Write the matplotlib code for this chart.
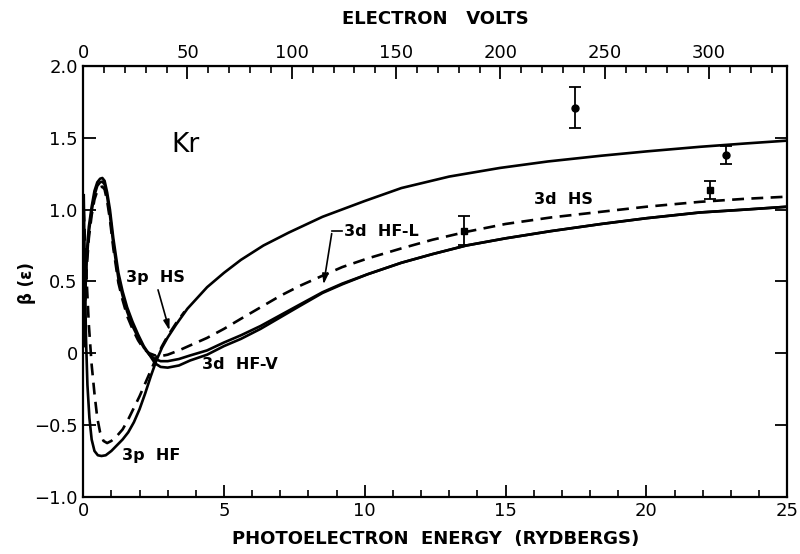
import numpy as np
import matplotlib
matplotlib.use("Agg")
import matplotlib.pyplot as plt
from matplotlib.ticker import MultipleLocator, FixedLocator, FuncFormatter

# Kr photoelectron asymmetry parameter, beta vs photoelectron energy (Ry)
ev_per_ry = 13.5

# 3d HF-V (solid, outer)
x_3d = [0.02, 0.06, 0.12, 0.2, 0.3, 0.4, 0.5, 0.6, 0.68, 0.76, 0.85, 0.95, 1.07, 1.25,
        1.4, 1.56, 1.75, 1.95, 2.15, 2.35, 2.55, 2.75, 3.0, 3.4, 3.8, 4.4, 5.0, 5.6,
        6.3, 7.0, 7.7, 8.5, 9.2, 10.1, 11.3, 12.4, 13.6, 15.0, 16.6, 18.4, 20.0,
        21.9, 23.5, 25.0]
beta_3d_hfv = [0.1, 0.4, 0.68, 0.88, 1.02, 1.13, 1.19, 1.215, 1.22, 1.2, 1.12, 1.0, 0.8,
               0.56, 0.43, 0.32, 0.22, 0.13, 0.05, -0.01, -0.07, -0.095, -0.1, -0.085,
               -0.05, -0.01, 0.05, 0.1, 0.17, 0.25, 0.33, 0.42, 0.48, 0.55, 0.63, 0.69,
               0.75, 0.8, 0.85, 0.9, 0.94, 0.98, 1.0, 1.02]
# 3d HF-L (solid, inner)
beta_3d_hfl = [0.05, 0.35, 0.63, 0.84, 0.99, 1.1, 1.165, 1.19, 1.195, 1.175, 1.09, 0.96,
               0.76, 0.52, 0.4, 0.29, 0.19, 0.11, 0.04, -0.01, -0.04, -0.055, -0.055,
               -0.04, -0.015, 0.02, 0.075, 0.125, 0.19, 0.265, 0.34, 0.425, 0.485, 0.55,
               0.63, 0.69, 0.75, 0.8, 0.85, 0.9, 0.94, 0.98, 1.0, 1.02]
# 3d HS (dashed)
beta_3d_hs = [0.1, 0.3, 0.58, 0.8, 0.96, 1.07, 1.13, 1.155, 1.16, 1.14, 1.06, 0.93, 0.73,
              0.49, 0.37, 0.26, 0.17, 0.09, 0.03, 0.0, -0.015, -0.02, -0.01, 0.02, 0.055,
              0.107, 0.17, 0.24, 0.32, 0.4, 0.47, 0.54, 0.6, 0.66, 0.73, 0.79, 0.845, 0.9,
              0.945, 0.985, 1.02, 1.054, 1.075, 1.09]

# 3p HF (solid)
x_3p_hf = [0.02, 0.06, 0.1, 0.15, 0.22, 0.3, 0.4, 0.52, 0.65, 0.8, 1.0, 1.2, 1.4, 1.6,
           1.8, 2.0, 2.2, 2.4, 2.6, 2.8, 3.0, 3.3, 3.7, 4.4, 5.0, 5.6, 6.4, 7.3, 8.5,
           10.0, 11.3, 13.0, 14.8, 16.5, 18.4, 20.0, 21.9, 23.5, 25.0]
beta_3p_hf = [1.1, 0.55, 0.1, -0.22, -0.45, -0.6, -0.68, -0.71, -0.715, -0.71, -0.68,
              -0.64, -0.6, -0.55, -0.48, -0.39, -0.28, -0.16, -0.05, 0.04, 0.11, 0.2,
              0.31, 0.46, 0.56, 0.65, 0.75, 0.84, 0.95, 1.06, 1.15, 1.23, 1.29, 1.335,
              1.375, 1.405, 1.437, 1.46, 1.48]
# 3p HS (dashed)
x_3p_hs = [0.02, 0.1, 0.2, 0.3, 0.4, 0.5, 0.6, 0.72, 0.85, 1.0, 1.2, 1.4, 1.6, 1.8,
           2.0, 2.2, 2.4, 2.6, 2.8, 3.0, 3.3, 3.6]
beta_3p_hs = [1.0, 0.6, 0.2, -0.08, -0.28, -0.45, -0.55, -0.61, -0.625, -0.61, -0.575,
              -0.53, -0.46, -0.38, -0.3, -0.21, -0.12, -0.03, 0.05, 0.12, 0.21, 0.29]

# experimental points
x_exp_circ = [17.47, 22.83]
beta_exp_circ = [1.71, 1.38]
err_exp_circ = [0.14, 0.065]
x_exp_sq = [13.53, 22.27]
beta_exp_sq = [0.852, 1.137]
err_exp_sq = [0.1, 0.065]

fig = plt.figure(figsize=(8, 5.54), dpi=100)
ax = fig.add_axes([0.104, 0.103, 0.88, 0.778])

lw = 1.9
dash = (4.5, 2.8)
ax.plot(x_3d, beta_3d_hfv, color="black", lw=lw)
ax.plot(x_3d, beta_3d_hfl, color="black", lw=lw)
ax.plot(x_3d, beta_3d_hs, color="black", lw=lw, dashes=dash)
ax.plot(x_3p_hf, beta_3p_hf, color="black", lw=lw)
ax.plot(x_3p_hs, beta_3p_hs, color="black", lw=lw, dashes=dash)

ax.errorbar(x_exp_circ, beta_exp_circ, yerr=err_exp_circ, fmt="o", color="black",
            ms=5, capsize=4, elinewidth=1.3, capthick=1.3)
ax.errorbar(x_exp_sq, beta_exp_sq, yerr=err_exp_sq, fmt="s", color="black",
            ms=4.5, capsize=4, elinewidth=1.3, capthick=1.3)

ax.set_xlim(0, 25)
ax.set_ylim(-1.0, 2.0)

for s in ax.spines.values():
    s.set_linewidth(1.6)

ax.xaxis.set_major_locator(MultipleLocator(5))
ax.xaxis.set_minor_locator(MultipleLocator(1))
ax.yaxis.set_major_locator(MultipleLocator(0.5))
ax.tick_params(which="major", direction="in", length=9, width=1.3, labelsize=13,
               right=True, top=False, pad=4)
ax.tick_params(which="minor", direction="in", length=5, width=1.2, right=False, top=False)


def yfmt(v, pos):
    if abs(v) < 1e-9:
        return "0"
    return ("%.1f" % v).replace("-", "\u2212")


ax.yaxis.set_major_formatter(FuncFormatter(yfmt))
ax.xaxis.set_major_formatter(FuncFormatter(lambda v, p: "%d" % v))

top = ax.secondary_xaxis("top", functions=(lambda x: x * ev_per_ry, lambda e: e / ev_per_ry))
top.xaxis.set_major_locator(FixedLocator([0, 50, 100, 150, 200, 250, 300]))
top.xaxis.set_minor_locator(MultipleLocator(10))
top.tick_params(which="major", direction="in", length=9, width=1.3, labelsize=13, pad=3)
top.tick_params(which="minor", direction="in", length=5, width=1.2)
top.xaxis.set_major_formatter(FuncFormatter(lambda v, p: "%d" % v))

ax.set_xlabel("PHOTOELECTRON  ENERGY  (RYDBERGS)", fontsize=13, fontweight="bold",
              labelpad=7)
top.set_xlabel("ELECTRON   VOLTS", fontsize=13, fontweight="bold", labelpad=14)
ax.text(-0.08, 0.497, "β (ε)", transform=ax.transAxes, rotation=90, fontsize=12,
        fontweight="bold", ha="center", va="center")

# curve labels
lab = dict(fontsize=11.5, fontweight="bold", ha="center", va="center")
ax.text(3.62, 1.45, "Kr", fontsize=19, ha="center", va="center")
ax.text(2.56, 0.525, "3p  HS", **lab)
ax.text(2.41, -0.71, "3p  HF", **lab)
ax.text(5.58, -0.08, "3d  HF-V", **lab)
ax.text(17.05, 1.07, "3d  HS", **lab)
ax.text(9.25, 0.85, "3d  HF-L", fontsize=11.5, fontweight="bold", ha="left", va="center")

arr = dict(arrowstyle="-|>,head_length=0.6,head_width=0.18", color="black", lw=1.2)
ax.annotate("", xy=(3.09, 0.14), xytext=(2.63, 0.46), arrowprops=arr)
ax.plot([9.2, 8.84], [0.852, 0.852], color="black", lw=1.2)
ax.annotate("", xy=(8.52, 0.46), xytext=(8.84, 0.852), arrowprops=arr)

fig.savefig("out.png", dpi=100, facecolor="white")
